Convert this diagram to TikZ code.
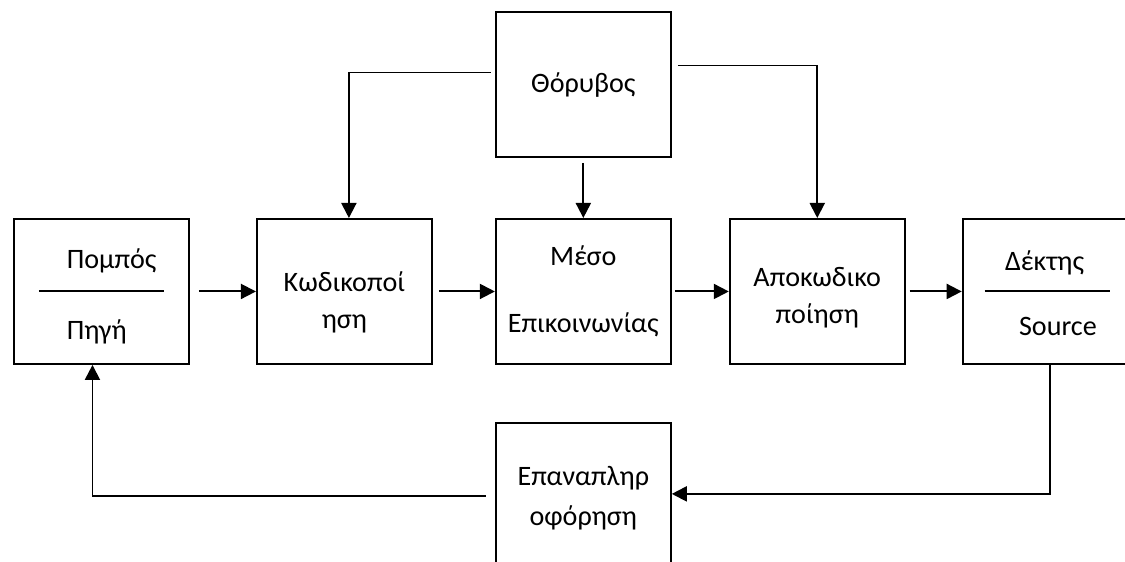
\documentclass[tikz,border=0pt]{standalone}
\usepackage{fontspec}
\setmainfont{Carlito}
\usetikzlibrary{arrows.meta,positioning}

\begin{document}
\begin{tikzpicture}[
    font=\fontsize{16}{21}\selectfont,
    box/.style={draw, line width=1.1pt, minimum width=35mm, minimum height=29mm,
                align=center, inner sep=0pt},
    txt/.style={inner sep=0pt},
    flow/.style={-{Triangle[length=3mm, width=3mm]}, line width=1.1pt},
    rule/.style={line width=1.1pt}
  ]
    \useasboundingbox (0,0) rectangle (225mm,-112.4mm);

    \node[box, anchor=north west] (src) at (2.6mm,-43.6mm) {};
    \node[box, right=13.2mm of src]  (enc)  {\rule{0pt}{24pt}Κωδικοποί\\ηση};
    \node[box, right=12.4mm of enc]  (chan) {Μέσο\\[17pt]Επικοινωνίας};
    \node[box, right=11.4mm of chan] (dec)  {\rule{0pt}{18pt}Αποκωδικο\\ποίηση};
    \node[box, right=11.2mm of dec]  (dst)  {};

    \node[box, above=12mm of chan] (noise) {Θόρυβος};
    \node[box, below=11.4mm of chan, minimum height=30mm] (fb) {Επαναπληρ\\[2pt]οφόρηση};

    % split boxes
    \node[txt, anchor=base west] (srcup) at ([xshift=-7mm, yshift=4.5mm]src.center) {Πομπός};
    \node[txt, anchor=base west] (srclo) at ([xshift=-7mm, yshift=-9.7mm]src.center) {Πηγή};
    \draw[rule] ([xshift=-12.5mm]src.center) -- ([xshift=12.5mm]src.center);

    \node[txt, anchor=base west] (dstup) at ([xshift=-9.1mm, yshift=4.1mm]dst.center) {Δέκτης};
    \node[txt, anchor=base west] (dstlo) at ([xshift=-6.3mm, yshift=-8.9mm]dst.center) {Source};
    \draw[rule] ([xshift=-13.1mm]dst.center) -- ([xshift=11.9mm]dst.center);

    \draw[flow, shorten <=1.8mm] (src)  -- (enc);
    \draw[flow, shorten <=1.2mm] (enc)  -- (chan);
    \draw[flow, shorten <=0.6mm] (chan) -- (dec);
    \draw[flow, shorten <=0.8mm] (dec)  -- (dst);

    \draw[flow, shorten <=1mm] (noise) -- (chan);
    \draw[flow] ([xshift=-0.8mm, yshift=2.4mm]noise.west) -| ([xshift=0.9mm]enc.north);
    \draw[flow] ([xshift=1.2mm, yshift=3.8mm]noise.east) -| (dec.north);

    \draw[flow] (dst.south) |- ([yshift=0.8mm]fb.east);
    \draw[flow] ([xshift=-1.8mm, yshift=0.4mm]fb.west) -| ([xshift=-1.8mm]src.south);
  \end{tikzpicture}
\end{document}
